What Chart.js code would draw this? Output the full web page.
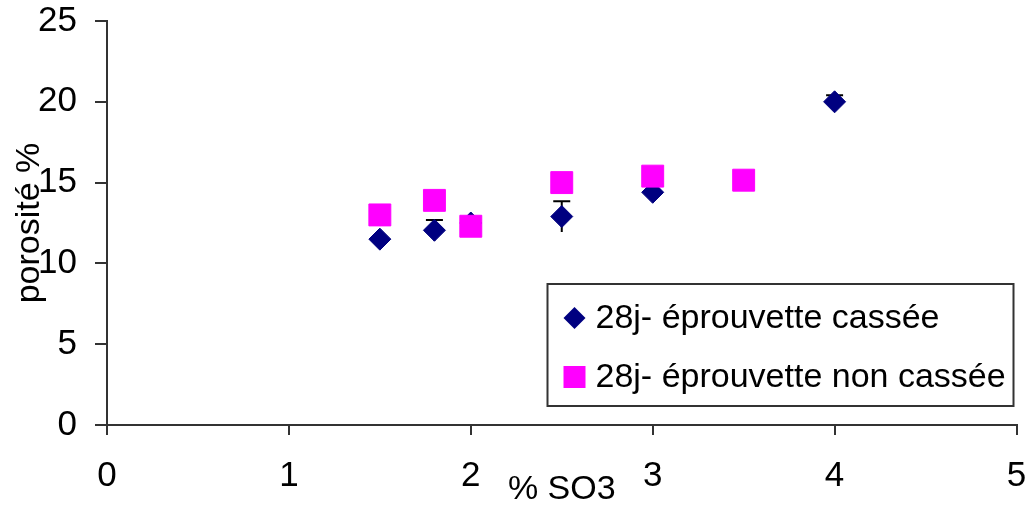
<!DOCTYPE html>
<html>
<head>
<meta charset="utf-8">
<script src="https://cdn.jsdelivr.net/npm/chart.js@4/dist/chart.umd.min.js"></script>
<style>
  body { margin: 0; background: #fff; }
  #wrap { width: 1033px; height: 507px; }
</style>
</head>
<body>
<div id="wrap"><canvas id="poroChart" width="1033" height="507"></canvas></div>
<script>
// 28j - éprouvette cassée
const so3Cassee = [1.5, 1.8, 2, 2.5, 3, 4];
const poroCassee = [11.5, 12.05, 12.5, 12.9, 14.4, 20.0];
const errCassee = [0, 0.63, 0, 0.95, 0, 0.4];

// 28j - éprouvette non cassée
const so3NonCassee = [1.5, 1.8, 2, 2.5, 3, 3.5];
const poroNonCassee = [13.0, 13.9, 12.3, 15.0, 15.4, 15.15];

const seriesLabels = ['28j- éprouvette cassée', '28j- éprouvette non cassée'];
const xTicks = [0, 1, 2, 3, 4, 5];
const yTicks = [0, 5, 10, 15, 20, 25];

const FONT = 'Liberation Sans, Arial, sans-serif';
const axisColor = '#333';

function toPoints(xs, ys) {
    return xs.map((x, i) => ({ x: x, y: ys[i] }));
}

// vertical error bars, drawn behind the markers
const errorBars = {
    id: 'errorBars',
    beforeDatasetsDraw(chart) {
        const ctx = chart.ctx;
        const xs = chart.scales.x, ys = chart.scales.y;
        ctx.save();
        ctx.strokeStyle = '#000';
        ctx.lineWidth = 2;
        so3Cassee.forEach((v, i) => {
            const e = errCassee[i];
            if (!e) return;
            const px = xs.getPixelForValue(v);
            const top = ys.getPixelForValue(poroCassee[i] + e);
            const bot = ys.getPixelForValue(poroCassee[i] - e);
            ctx.beginPath();
            ctx.moveTo(px, top);
            ctx.lineTo(px, bot);
            ctx.moveTo(px - 8.5, top);
            ctx.lineTo(px + 8.5, top);
            ctx.stroke();
        });
        ctx.restore();
    }
};

// boxed legend inside the plot area, bottom right
const boxLegend = {
    id: 'boxLegend',
    afterDraw(chart) {
        const ctx = chart.ctx;
        const area = chart.chartArea;
        const right = area.right - 3, bottom = area.bottom - 19;
        const left = right - 466, top = bottom - 122;
        ctx.save();
        ctx.fillStyle = '#fff';
        ctx.fillRect(left, top, right - left, bottom - top);
        ctx.strokeStyle = axisColor;
        ctx.lineWidth = 2;
        ctx.strokeRect(left, top, right - left, bottom - top);
        ctx.font = '34px ' + FONT;
        ctx.textBaseline = 'middle';
        ctx.textAlign = 'left';
        const rows = [top + 34, top + 93];
        chart.data.datasets.forEach((ds, i) => {
            const cy = rows[i], cx = left + 27;
            ctx.fillStyle = ds.backgroundColor;
            ctx.beginPath();
            if (ds.pointStyle === 'rectRot') {
                ctx.moveTo(cx, cy - 11);
                ctx.lineTo(cx + 11, cy);
                ctx.lineTo(cx, cy + 11);
                ctx.lineTo(cx - 11, cy);
                ctx.closePath();
            } else {
                ctx.rect(cx - 11, cy - 11, 22, 22);
            }
            ctx.fill();
            ctx.fillStyle = '#000';
            ctx.fillText(ds.label, left + 48, cy + 1);
        });
        ctx.restore();
    }
};

new Chart(document.getElementById('poroChart').getContext('2d'), {
    type: 'scatter',
    data: {
        datasets: [{
            label: seriesLabels[0],
            data: toPoints(so3Cassee, poroCassee),
            pointStyle: 'rectRot',
            pointRadius: 11,
            pointHoverRadius: 11,
            backgroundColor: '#000080',
            borderColor: '#000080',
            borderWidth: 1,
            order: 1
        }, {
            label: seriesLabels[1],
            data: toPoints(so3NonCassee, poroNonCassee),
            pointStyle: 'rect',
            pointRadius: 15.5,
            pointHoverRadius: 15.5,
            backgroundColor: '#FF00FF',
            borderColor: '#FF00FF',
            borderWidth: 1,
            order: 0
        }]
    },
    options: {
        responsive: false,
        animation: false,
        devicePixelRatio: 1,
        layout: { padding: { top: 21, right: 14, left: 0, bottom: 0 } },
        plugins: {
            legend: { display: false },
            tooltip: { enabled: false }
        },
        scales: {
            x: {
                type: 'linear',
                min: 0,
                max: 5,
                afterBuildTicks: s => { s.ticks = xTicks.map(v => ({ value: v })); },
                afterFit: s => { s.height = 82; s.paddingLeft = 0; s.paddingRight = 0; },
                ticks: { color: '#000', font: { family: FONT, size: 35 }, padding: 20, maxRotation: 0 },
                grid: { drawOnChartArea: false, drawTicks: true, tickLength: 10, color: axisColor, lineWidth: 2 },
                border: { color: axisColor, width: 2 },
                title: {
                    display: true,
                    text: '% SO3',
                    color: '#000',
                    font: { family: FONT, size: 34, lineHeight: 1 },
                    padding: { top: 0, bottom: 0 }
                }
            },
            y: {
                type: 'linear',
                min: 0,
                max: 25,
                afterBuildTicks: s => { s.ticks = yTicks.map(v => ({ value: v })); },
                afterFit: s => { s.width = 107; s.paddingTop = 0; s.paddingBottom = 0; },
                ticks: { color: '#000', font: { family: FONT, size: 35 }, padding: 18 },
                grid: { drawOnChartArea: false, drawTicks: true, tickLength: 12, color: axisColor, lineWidth: 2 },
                border: { color: axisColor, width: 2 },
                title: {
                    display: true,
                    text: 'porosité %',
                    color: '#000',
                    font: { family: FONT, size: 34, lineHeight: 1 },
                    padding: { top: 13, bottom: 0 }
                }
            }
        }
    },
    plugins: [errorBars, boxLegend]
});
</script>
</body>
</html>
